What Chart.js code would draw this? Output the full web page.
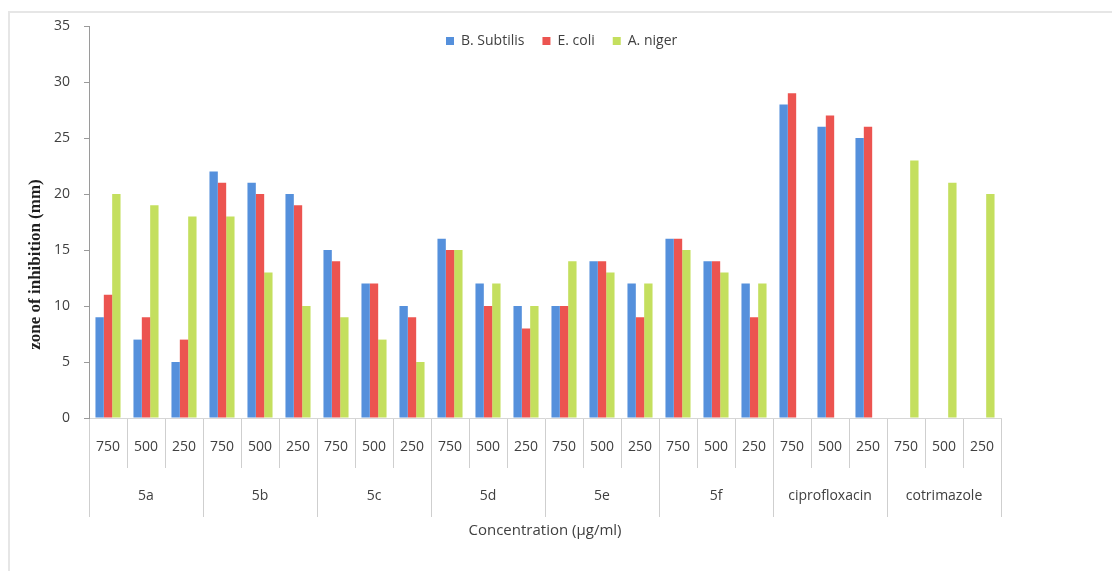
<!DOCTYPE html>
<html>
<head>
<meta charset="utf-8">
<script src="https://cdn.jsdelivr.net/npm/chart.js@4/dist/chart.umd.min.js"></script>
<style>
  html, body { margin: 0; padding: 0; background: #fff; }
  #wrap { position: relative; width: 1112px; height: 571px; overflow: hidden; }
  #frame { position: absolute; left: 8px; top: 11px; right: 0; bottom: 0;
           border-left: 2px solid #e6e6e6; border-top: 2px solid #e6e6e6; }
  canvas { position: absolute; left: 0; top: 0; }
</style>
</head>
<body>
<div id="wrap">
  <div id="frame"></div>
  <canvas id="chart" width="1112" height="571"></canvas>
</div>
<script>
// Compounds / standards and the three tested concentrations (µg/ml)
const compounds = ['5a', '5b', '5c', '5d', '5e', '5f', 'ciprofloxacin', 'cotrimazole'];
const concentrations = ['750', '500', '250'];

// Zone of inhibition (mm), ordered compound by compound, 750 / 500 / 250
const bSubtilis = [9, 7, 5,   22, 21, 20,  15, 12, 10,  16, 12, 10,  10, 14, 12,  16, 14, 12,  28, 26, 25,  null, null, null];
const eColi     = [11, 9, 7,  21, 20, 19,  14, 12, 9,   15, 10, 8,   10, 14, 9,   16, 14, 9,   29, 27, 26,  null, null, null];
const aNiger    = [20, 19, 18, 18, 13, 10, 9, 7, 5,     15, 12, 10,  14, 13, 12,  15, 13, 12,  null, null, null, 23, 21, 20];

const seriesNames = ['B. Subtilis', 'E. coli', 'A. niger'];
const seriesColors = ['#5590dc', '#ec5450', '#c4df5e'];

const yMin = 0, yMax = 35, yStep = 5;

const concLabels = compounds.flatMap(() => concentrations);

const textColor = '#404040';
const sepColor = '#cfcfcf';
const baseFont = { family: "'Open Sans', sans-serif", size: 14 };

// Keeps the legend from taking layout space and sets it inside the plot, near the top
const legendInPlot = {
  id: 'legendInPlot',
  beforeLayout(chart) {
    const lg = chart.legend;
    if (!lg || lg.$inPlot) return;
    const fit = lg.fit;
    lg.fit = function () {
      fit.call(this);
      this.$fullHeight = this.height;
      this.height = 0;
    };
    lg.$inPlot = true;
  },
  afterLayout(chart, args, opts) {
    const lg = chart.legend;
    if (!lg) return;
    lg.left = opts.left;
    lg.right = opts.right;
    lg.width = opts.right - opts.left;
    lg.top = opts.top;
    lg.height = lg.$fullHeight;
    lg.bottom = opts.top + lg.$fullHeight;
  }
};

// trailing spaces move the rotated axis title a little below the axis centre
const yTitle = 'zone of inhibition (mm)' + '\u00a0'.repeat(20);

new Chart(document.getElementById('chart'), {
  type: 'bar',
  data: {
    labels: concLabels,
    datasets: [bSubtilis, eColi, aNiger].map((vals, i) => ({
      label: seriesNames[i],
      data: vals,
      backgroundColor: seriesColors[i],
      borderWidth: 0,
      categoryPercentage: 0.66,
      barPercentage: 1.0
    }))
  },
  options: {
    responsive: false,
    animation: false,
    devicePixelRatio: 1,
    layout: { padding: { left: 22, right: 111, top: 26, bottom: 27 } },
    plugins: {
      tooltip: { enabled: false },
      legend: {
        position: 'top',
        align: 'start',
        labels: {
          font: baseFont,
          color: textColor,
          boxWidth: 8,
          boxHeight: 8,
          padding: 18
        }
      },
      legendInPlot: { left: 428, right: 1100, top: 16 }
    },
    scales: {
      x: {
        type: 'category',
        position: 'bottom',
        weight: 0,
        offset: true,
        grid: {
          offset: true,
          drawOnChartArea: false,
          drawTicks: true,
          tickLength: 50,
          tickColor: sepColor,
          tickWidth: 1
        },
        border: { display: true, color: '#d6d6d6', width: 1 },
        ticks: {
          font: baseFont,
          color: textColor,
          padding: -29,
          autoSkip: false,
          maxRotation: 0,
          minRotation: 0
        },
        afterFit(scale) { scale.height = 50; }
      },
      x2: {
        type: 'category',
        position: 'bottom',
        weight: 1,
        labels: compounds,
        offset: true,
        grid: {
          offset: true,
          drawOnChartArea: false,
          drawTicks: true,
          tickLength: 49,
          tickColor: sepColor,
          tickWidth: 1
        },
        border: { display: false },
        ticks: {
          font: baseFont,
          color: textColor,
          padding: -29,
          autoSkip: false,
          maxRotation: 0,
          minRotation: 0
        },
        title: {
          display: true,
          text: 'Concentration (µg/ml)',
          font: { family: "'Open Sans', sans-serif", size: 15 },
          color: textColor,
          padding: { top: 0, bottom: 4 }
        },
        afterFit(scale) { scale.height = 76; }
      },
      y: {
        min: yMin,
        max: yMax,
        ticks: {
          stepSize: yStep,
          font: baseFont,
          color: textColor,
          padding: 14
        },
        grid: {
          drawOnChartArea: false,
          drawTicks: true,
          tickLength: 5,
          tickColor: '#9a9a9a'
        },
        border: { display: true, color: '#9a9a9a', width: 1 },
        title: {
          display: true,
          text: yTitle,
          font: { family: "'Liberation Serif', serif", size: 17, weight: 'bold' },
          color: '#1e1e1e',
          padding: { top: 3, bottom: 0 }
        },
        afterFit(scale) { scale.width = 67; }
      }
    }
  },
  plugins: [legendInPlot]
});
</script>
</body>
</html>
